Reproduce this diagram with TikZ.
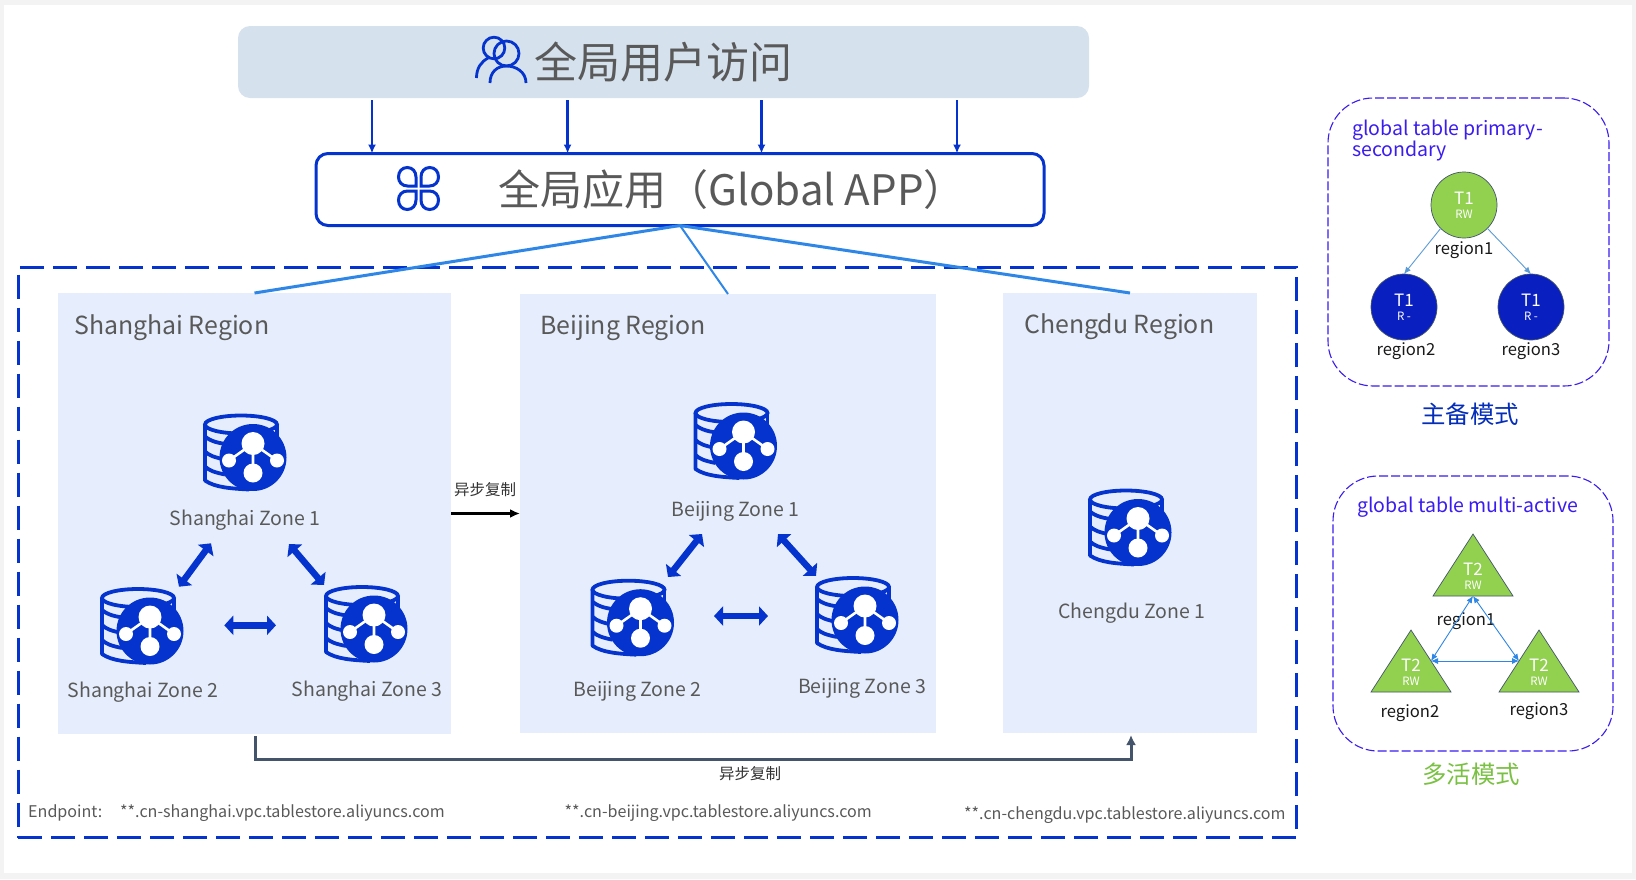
\documentclass[tikz,border=0pt]{standalone}
\usepackage{fontspec}
\setmainfont{Noto Sans CJK SC}
\usetikzlibrary{positioning, calc, arrows.meta, shapes.geometric}
\definecolor{Page}{HTML}{F3F3F3}
\definecolor{Royal}{HTML}{0433CE}
\definecolor{Sky}{HTML}{2E86E6}
\definecolor{Steel}{HTML}{5B9BD5}
\definecolor{Slate}{HTML}{44546A}
\definecolor{Mist}{HTML}{D5E1ED}
\definecolor{Pale}{HTML}{E6EEFD}
\definecolor{Ink}{HTML}{595959}
\definecolor{Violet}{HTML}{3A1CF0}
\definecolor{Leaf}{HTML}{92D050}
\definecolor{Navy}{HTML}{0A1FBF}
\definecolor{Moss}{HTML}{7AC143}
\newcommand{\fs}[1]{\fontsize{#1}{#1}\selectfont}
\tikzset{
    regionbox/.style={rectangle, fill=Pale, inner sep=0pt, outer sep=0pt, anchor=north west},
    regionlabel/.style={anchor=west, inner sep=0pt, text=Ink, font=\fs{24.9}},
    zonelabel/.style={inner sep=0pt, text=Ink, font=\fs{19.5}},
    endpoint/.style={anchor=west, inner sep=0pt, text=Ink, font=\fs{16.1}},
    titlelabel/.style={inner sep=0pt, text=Ink, font=\fs{43}},
    panelbox/.style={rectangle, draw=Violet, line width=1.1pt, dash pattern=on 9pt off 3pt, rounded corners=45pt, inner sep=0pt, outer sep=0pt, anchor=north west},
    paneltitle/.style={anchor=west, align=left, inner sep=0pt, text=Violet, font=\fs{19.5}},
    regionname/.style={inner sep=0pt, text=black!90, font=\fs{16.6}},
    modename/.style={inner sep=0pt, font=\fs{24.4}},
    tname/.style={inner sep=0pt, text=white, font=\fs{17}},
    tmode/.style={inner sep=0pt, text=white, font=\fs{11.5}},
    tabledot/.style={circle, draw=Slate, line width=0.7pt, minimum size=66pt, inner sep=0pt, outer sep=0pt},
    tabletri/.style={isosceles triangle, isosceles triangle apex angle=66, isosceles triangle stretches, shape border rotate=90, draw=Slate, line width=0.7pt, fill=Leaf, minimum height=62pt, minimum width=80pt, inner sep=0pt, outer sep=0pt, anchor=apex},
    zonearrow/.style={{Triangle[width=19pt,length=9pt]}-{Triangle[width=19pt,length=9pt]}, line width=6.5pt, color=Royal},
    fanline/.style={line width=3pt, color=Sky},
    accessarrow/.style={-{Latex[length=9pt,width=8pt]}, line width=2.5pt, color=Royal},
    dbicon/.pic={
        \draw[Royal, line width=3.8pt] (-12,-33) ellipse [x radius=36, y radius=9];
        \draw[Royal, line width=3.8pt, line join=round] (-48,-33) -- (-48,23) .. controls (-38,30) and (-22,31) .. (-4,32);
        \draw[Royal, line width=3.8pt] (24,-33) -- (24,-20);
        \draw[Royal, line width=3.8pt] (-48,-21) .. controls (-42,-16) and (-34,-14) .. (-22,-13);
        \draw[Royal, line width=3.8pt] (-48,-6) .. controls (-44,-2) and (-38,0) .. (-28,2);
        \draw[Royal, line width=3.8pt] (-48,9) .. controls (-44,13) and (-38,15) .. (-28,17);
        \fill[Royal] (0,0) circle [radius=33.5];
        \draw[white, line width=2.6pt] (-24,3) -- (0,-14) -- (24,3) (0,-14) -- (0,15);
        \fill[white] (0,-14) circle [radius=11.5] (0,15.5) circle [radius=9.5] (-24,3) circle [radius=7] (24,3) circle [radius=7];
    },
    petal/.pic={
        \draw[Royal, line width=3pt] (-2.5,-2.5) -- (-11,-2.5) .. controls (-16.5,-2.5) and (-20,-6.5) .. (-20,-11.5) .. controls (-20,-17) and (-16.5,-21) .. (-11.2,-21) .. controls (-6,-21) and (-2.5,-17) .. (-2.5,-11.5) -- cycle;
    },
}
\begin{document}
\begin{tikzpicture}[x=1pt, y=-1pt]
    \useasboundingbox (0,0) rectangle (1636,879);
    \fill[Page] (0,0) rectangle (1636,879);
    \fill[white] (4,5) rectangle (1632,873);

    % Global access
    \node[rectangle, fill=Mist, rounded corners=12pt, minimum width=851pt, minimum height=72pt, inner sep=0pt, outer sep=0pt] (access) at (663.5,62) {};
    \node[titlelabel] (accesstext) at (663.5,62) {全局用户访问};
    \draw[Royal, line width=2.8pt] (494,48) circle [radius=10.8];
    \draw[Royal, line width=2.8pt, fill=none] (506.5,53.5) circle [radius=12.5];
    \draw[Royal, line width=2.8pt] (476.5,78) .. controls (476.5,68) and (481,62) .. (488,58);
    \draw[Royal, line width=2.8pt] (490,83) .. controls (490,72) and (497,66) .. (506.5,66) .. controls (516,66) and (526,72) .. (526,83);

    % Global app
    \node[rectangle, draw=Royal, line width=3pt, fill=white, rounded corners=12pt, minimum width=728pt, minimum height=72pt, inner sep=0pt, outer sep=0pt] (app) at (680,189.5) {};
    \node[titlelabel, font=\fs{42}] (apptext) at (732,189.5) {全局应用（Global APP）};
    \foreach \sx/\sy in {1/1, -1/1, 1/-1, -1/-1}
        \pic[xscale=\sx, yscale=\sy] at (418.5,188.5) {petal};
    \foreach \px in {372,567.6,761.5,957}
        \draw[accessarrow] (\px,100) -- (app.north -| \px,0);

    % Outer dashed frame
    \node[rectangle, draw=Royal, line width=3pt, dash pattern=on 24pt off 9pt, minimum width=1278.5pt, minimum height=570.5pt, inner sep=0pt, outer sep=0pt, anchor=north west] (frame) at (18,267) {};

    % Regions
    \node[regionbox, minimum width=393pt, minimum height=441pt] (shanghai) at (58,293) {};
    \node[regionbox, minimum width=416pt, minimum height=439pt] (beijing) at (520,294) {};
    \node[regionbox, minimum width=254pt, minimum height=440pt] (chengdu) at (1003,293) {};
    \node[regionlabel] (shanghailabel) at (74,328) {Shanghai Region};
    \node[regionlabel] (beijinglabel) at (540,328) {Beijing Region};
    \node[regionlabel] (chengdulabel) at (1024,327) {Chengdu Region};

    \draw[fanline] (app.south) -- (shanghai.north);
    \draw[fanline, line width=2pt] (app.south) -- (beijing.north);
    \draw[fanline] (app.south) -- (chengdu.north);

    % Zones
    \foreach \px/\py in {253/457.5, 150/631, 374/629, 743.5/446, 640.5/622.7, 865/620, 1138/532.5}
        \pic at (\px,\py) {dbicon};
    \node[zonelabel] (shzone1) at (245,520) {Shanghai Zone 1};
    \node[zonelabel] (shzone2) at (143,692.5) {Shanghai Zone 2};
    \node[zonelabel] (shzone3) at (367,691.5) {Shanghai Zone 3};
    \node[zonelabel] (bjzone1) at (735.6,511) {Beijing Zone 1};
    \node[zonelabel] (bjzone2) at (637.5,691) {Beijing Zone 2};
    \node[zonelabel] (bjzone3) at (862,688.5) {Beijing Zone 3};
    \node[zonelabel] (cdzone1) at (1132,613.5) {Chengdu Zone 1};

    % Zone links
    \foreach \ax/\ay/\bx/\by in {211/543.3/179/586.7, 289/544/324/585, 224.3/625.3/276/625.3, 702/534/668/577, 778/534/816/576, 714/616/768/616}
        \draw[zonearrow] (\ax,\ay) -- (\bx,\by);

    % Async copy
    \draw[-{Latex[length=10pt,width=9pt]}, line width=2.5pt, black] (shanghai.east) -- (beijing.west);
    \node[inner sep=0pt, text=black!80, font=\fs{15.5}] (copya) at (485,490) {异步复制};
    \draw[-{Latex[length=10pt,width=10pt]}, line width=3pt, Slate, shorten <=2pt, shorten >=2pt] ([xshift=1pt]shanghai.south) -- ++(0,25) -| ([xshift=1pt]chengdu.south);
    \node[inner sep=0pt, text=black!80, font=\fs{15.5}] (copyb) at (750,774) {异步复制};

    % Endpoints
    \node[endpoint] (endpointlabel) at (28,813) {Endpoint:};
    \node[endpoint] (endpointsh) at (120,813) {**.cn-shanghai.vpc.tablestore.aliyuncs.com};
    \node[endpoint] (endpointbj) at (564.5,813) {**.cn-beijing.vpc.tablestore.aliyuncs.com};
    \node[endpoint] (endpointcd) at (964,815) {**.cn-chengdu.vpc.tablestore.aliyuncs.com};

    % Primary-secondary panel
    \node[panelbox, minimum width=281pt, minimum height=288pt] (panela) at (1328,98) {};
    \node[paneltitle] (panelatitle) at (1352,140.5) {global table primary-\\[-0.5pt]secondary};
    \node[tabledot, fill=Leaf] (dotmain) at (1464,205) {};
    \node[tabledot, fill=Navy] (dotleft) at (1404,307) {};
    \node[tabledot, fill=Navy] (dotright) at (1531,307) {};
    \foreach \px/\py/\pmode in {1464/205/RW, 1404/307/R -, 1531/307/R -}{
        \node[tname] at (\px,\py-7) {T1};
        \node[tmode] at (\px,\py+9) {\pmode};
    }
    \draw[-{Latex[length=7pt,width=6pt]}, line width=0.9pt, Steel] (dotmain.225) -- (dotleft.north);
    \draw[-{Latex[length=7pt,width=6pt]}, line width=0.9pt, Steel] (dotmain.315) -- (dotright.north);
    \node[regionname] (dotmainname) at (1464,250) {region1};
    \node[regionname] (dotleftname) at (1406,351) {region2};
    \node[regionname] (dotrightname) at (1531,351) {region3};
    \node[modename, text=Royal!90!black] (modea) at (1470,414) {主备模式};

    % Multi-active panel
    \node[panelbox, minimum width=280pt, minimum height=275pt] (panelb) at (1333,476) {};
    \node[paneltitle] (panelbtitle) at (1357,507) {global table multi-active};
    \node[tabletri] (trimain) at (1473,534) {};
    \node[tabletri] (trileft) at (1411,630) {};
    \node[tabletri] (triright) at (1539,630) {};
    \foreach \px/\py in {1473/535, 1411/631, 1539/631}{
        \node[tname] at (\px,\py+34) {T2};
        \node[tmode] at (\px,\py+50) {RW};
    }
    \node[regionname] (trimainname) at (1466,621) {region1};
    \node[regionname] (trileftname) at (1410,713) {region2};
    \node[regionname] (trirightname) at (1539,711) {region3};
    \draw[{Latex[length=7pt,width=6pt]}-{Latex[length=7pt,width=6pt]}, line width=0.9pt, Sky] (trimain.lower side) -- (trileft.right side);
    \draw[{Latex[length=7pt,width=6pt]}-{Latex[length=7pt,width=6pt]}, line width=0.9pt, Sky] (trimain.lower side) -- (triright.left side);
    \draw[{Latex[length=7pt,width=6pt]}-{Latex[length=7pt,width=6pt]}, line width=0.9pt, Sky] (trileft.right side) -- (triright.left side);
    \node[modename, text=Moss] (modeb) at (1471,774) {多活模式};
\end{tikzpicture}
\end{document}
